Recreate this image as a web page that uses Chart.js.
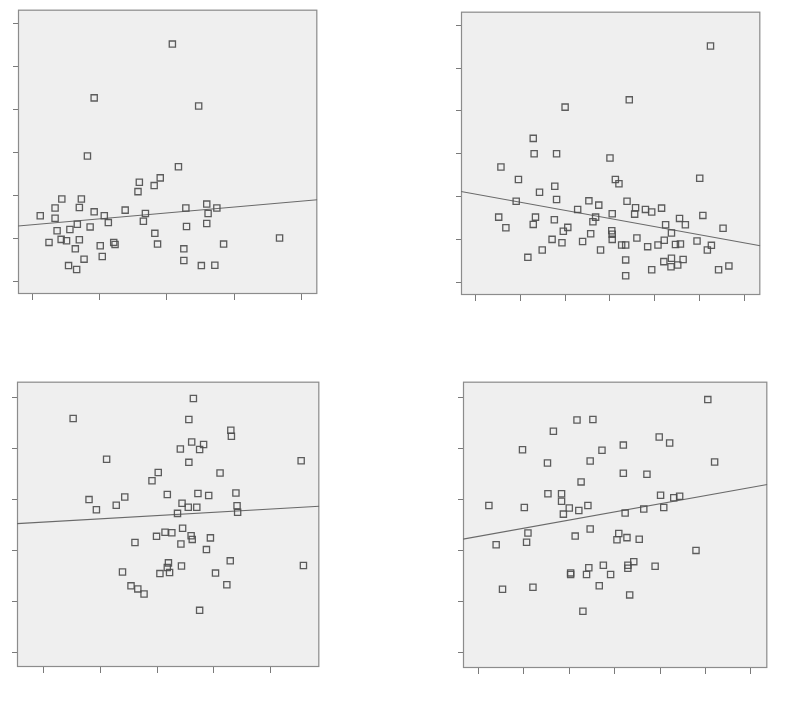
<!DOCTYPE html>
<html>
<head>
<meta charset="utf-8">
<script src="https://cdn.jsdelivr.net/npm/chart.js@4/dist/chart.umd.min.js"></script>
<style>
  html, body { margin: 0; padding: 0; background: #ffffff; }
  body { width: 791px; height: 705px; position: relative; overflow: hidden; font-family: "DejaVu Sans", sans-serif; }
  .panel { position: absolute; }
</style>
</head>
<body>
<div class="panel" id="w1"><canvas id="c1"></canvas></div>
<div class="panel" id="w2"><canvas id="c2"></canvas></div>
<div class="panel" id="w3"><canvas id="c3"></canvas></div>
<div class="panel" id="w4"><canvas id="c4"></canvas></div>
<script>
// ---- data (axes carry no labels) ----
const p1Points = [[2.08,5.52],[0.92,4.27],[2.47,4.08],[0.82,2.92],[2.17,2.67],[1.59,2.31],[1.57,2.09],[1.81,2.23],[1.90,2.41],[0.44,1.92],[0.73,1.92],[0.34,1.71],[0.70,1.72],[0.12,1.53],[0.34,1.47],[0.92,1.62],[1.07,1.53],[1.13,1.37],[1.38,1.66],[1.68,1.58],[1.65,1.40],[2.28,1.71],[2.59,1.80],[2.61,1.58],[2.74,1.71],[2.59,1.35],[2.29,1.28],[0.67,1.33],[0.86,1.27],[0.56,1.21],[0.37,1.18],[0.25,0.91],[0.43,0.98],[0.51,0.95],[0.70,0.97],[0.64,0.76],[1.01,0.83],[1.21,0.91],[1.23,0.86],[1.82,1.12],[1.86,0.87],[2.25,0.76],[2.25,0.49],[2.84,0.87],[3.67,1.01],[0.77,0.52],[1.04,0.58],[0.54,0.37],[0.66,0.28],[2.51,0.37],[2.71,0.38]];
const p1Fit = [[-0.21,1.29],[4.23,1.90]];

const p2Points = [[5.24,5.52],[3.43,4.26],[2.00,4.09],[1.29,3.36],[1.31,3.00],[1.81,3.00],[3.00,2.90],[0.57,2.69],[0.96,2.40],[3.12,2.40],[3.20,2.30],[5.00,2.43],[1.77,2.24],[1.43,2.10],[1.81,1.93],[0.91,1.89],[2.53,1.90],[2.75,1.80],[2.28,1.70],[3.38,1.89],[3.57,1.74],[3.79,1.70],[3.93,1.64],[4.15,1.73],[3.05,1.60],[3.55,1.59],[2.68,1.52],[0.52,1.52],[1.34,1.52],[1.76,1.46],[2.62,1.41],[0.68,1.27],[1.29,1.35],[2.06,1.28],[1.96,1.19],[2.57,1.13],[3.04,1.20],[3.05,1.12],[3.05,1.00],[4.55,1.49],[4.68,1.34],[4.24,1.34],[5.07,1.56],[5.52,1.26],[4.37,1.15],[4.21,0.98],[4.07,0.87],[3.84,0.83],[4.46,0.88],[4.57,0.89],[4.94,0.96],[5.17,0.75],[5.26,0.86],[1.71,1.00],[1.93,0.92],[2.39,0.95],[2.79,0.75],[1.49,0.75],[3.26,0.87],[3.35,0.87],[3.60,1.03],[1.17,0.58],[3.35,0.52],[3.35,0.15],[3.93,0.29],[4.20,0.48],[4.37,0.56],[4.36,0.36],[4.51,0.40],[4.63,0.53],[5.42,0.29],[5.65,0.38]];
const p2Fit = [[-0.32,2.12],[6.35,0.85]];

const p3Points = [[2.64,4.97],[0.52,4.58],[2.56,4.56],[3.30,4.35],[3.31,4.23],[2.61,4.12],[2.82,4.07],[2.75,3.97],[2.41,3.98],[1.11,3.78],[4.54,3.75],[2.56,3.72],[2.02,3.52],[1.91,3.36],[3.11,3.51],[2.18,3.09],[2.72,3.11],[2.91,3.07],[3.39,3.12],[0.80,2.99],[1.43,3.04],[0.93,2.79],[1.28,2.88],[2.44,2.92],[2.55,2.84],[2.70,2.84],[2.36,2.72],[3.41,2.87],[3.42,2.74],[2.45,2.43],[2.14,2.35],[2.26,2.34],[1.99,2.27],[2.60,2.28],[2.62,2.21],[2.94,2.24],[1.61,2.15],[2.42,2.12],[2.87,2.01],[3.29,1.79],[2.20,1.75],[2.18,1.66],[2.43,1.69],[4.58,1.70],[1.39,1.57],[2.05,1.54],[2.22,1.56],[3.03,1.55],[3.23,1.32],[1.54,1.30],[1.66,1.24],[1.77,1.14],[2.75,0.82]];
const p3Fit = [[-0.47,2.52],[4.86,2.86]];

const p4Points = [[5.05,4.95],[2.17,4.55],[2.52,4.56],[1.65,4.33],[3.98,4.22],[4.21,4.10],[0.97,3.97],[3.19,4.06],[2.72,3.96],[2.46,3.75],[1.52,3.71],[5.20,3.73],[3.19,3.51],[3.71,3.49],[2.26,3.34],[1.53,3.11],[1.83,3.11],[4.01,3.08],[4.30,3.03],[4.43,3.06],[0.23,2.88],[1.01,2.84],[1.83,2.96],[2.00,2.83],[2.21,2.78],[2.41,2.88],[1.87,2.71],[3.23,2.73],[3.64,2.81],[4.08,2.84],[1.09,2.34],[1.06,2.16],[0.39,2.11],[2.13,2.28],[2.46,2.42],[3.09,2.33],[3.05,2.21],[3.27,2.25],[3.54,2.22],[4.79,2.00],[2.75,1.71],[3.29,1.71],[3.42,1.78],[3.29,1.65],[3.89,1.69],[2.43,1.66],[2.03,1.56],[2.03,1.53],[2.38,1.53],[2.91,1.53],[0.53,1.24],[1.20,1.28],[2.66,1.31],[3.33,1.13],[2.30,0.81]];
const p4Fit = [[-0.34,2.22],[6.36,3.29]];

// unlabeled tick positions
const ticks0to4 = [0,1,2,3,4];
const ticks0to5 = [0,1,2,3,4,5];
const ticks0to6 = [0,1,2,3,4,5,6];

// ---- panels: frame placement and axis ranges ----
const panels = [
  { id: 'c1', wrap: 'w1', frame: {l:18, r:320, t:7,   b:294}, xr: [-0.21,4.23], yr: [-0.29,6.32], xt: ticks0to4, yt: ticks0to6, pts: p1Points, fit: p1Fit },
  { id: 'c2', wrap: 'w2', frame: {l:461, r:763, t:9,  b:295}, xr: [-0.32,6.35], yr: [-0.30,6.32], xt: ticks0to6, yt: ticks0to6, pts: p2Points, fit: p2Fit },
  { id: 'c3', wrap: 'w3', frame: {l:17, r:322, t:379, b:667}, xr: [-0.47,4.86], yr: [-0.29,5.30], xt: ticks0to4, yt: ticks0to5, pts: p3Points, fit: p3Fit },
  { id: 'c4', wrap: 'w4', frame: {l:463, r:770, t:379, b:668}, xr: [-0.34,6.36], yr: [-0.30,5.30], xt: ticks0to6, yt: ticks0to5, pts: p4Points, fit: p4Fit }
];

const AXW = 8;   // space reserved for tick marks
const PAD = 3;

const framePlugin = {
  id: 'frame',
  beforeDraw(chart) {
    const a = chart.chartArea, ctx = chart.ctx;
    ctx.save();
    ctx.fillStyle = '#efefef';
    ctx.fillRect(a.left, a.top, a.right - a.left, a.bottom - a.top);
    ctx.strokeStyle = '#8c8c8c';
    ctx.lineWidth = 1.2;
    ctx.strokeRect(a.left + 0.5, a.top + 0.5, a.right - a.left - 1, a.bottom - a.top - 1);
    ctx.restore();
  }
};

panels.forEach(p => {
  const f = p.frame;
  const w = (f.r - f.l) + AXW + PAD;
  const h = (f.b - f.t) + AXW + PAD;
  const wrap = document.getElementById(p.wrap);
  wrap.style.left = (f.l - AXW) + 'px';
  wrap.style.top = (f.t - PAD) + 'px';
  wrap.style.width = w + 'px';
  wrap.style.height = h + 'px';

  const setTicks = vals => scale => { scale.ticks = vals.map(v => ({ value: v })); };

  new Chart(document.getElementById(p.id), {
    data: {
      datasets: [
        {
          type: 'scatter',
          data: p.pts.map(d => ({ x: d[0], y: d[1] })),
          pointStyle: 'rect',
          pointRadius: 4.4,
          pointBorderWidth: 1.3,
          pointBorderColor: 'rgba(75,75,75,0.9)',
          pointBackgroundColor: 'rgba(0,0,0,0)',
          order: 1
        },
        {
          type: 'line',
          data: p.fit.map(d => ({ x: d[0], y: d[1] })),
          borderColor: '#6a6a6a',
          borderWidth: 1.1,
          pointRadius: 0,
          fill: false,
          order: 2
        }
      ]
    },
    options: {
      responsive: true,
      maintainAspectRatio: false,
      animation: false,
      events: [],
      layout: { padding: { top: PAD, right: PAD, left: 0, bottom: 0 } },
      plugins: { legend: { display: false }, tooltip: { enabled: false } },
      scales: {
        x: {
          type: 'linear', min: p.xr[0], max: p.xr[1],
          afterBuildTicks: setTicks(p.xt),
          afterFit: s => { s.height = AXW; },
          ticks: { display: false },
          border: { display: false },
          grid: { drawOnChartArea: false, drawTicks: true, tickLength: 6, color: '#7a7a7a', lineWidth: 1 }
        },
        y: {
          type: 'linear', min: p.yr[0], max: p.yr[1],
          afterBuildTicks: setTicks(p.yt),
          afterFit: s => { s.width = AXW; },
          ticks: { display: false },
          border: { display: false },
          grid: { drawOnChartArea: false, drawTicks: true, tickLength: 5, color: '#7a7a7a', lineWidth: 1 }
        }
      }
    },
    plugins: [framePlugin]
  });
});
</script>
</body>
</html>
